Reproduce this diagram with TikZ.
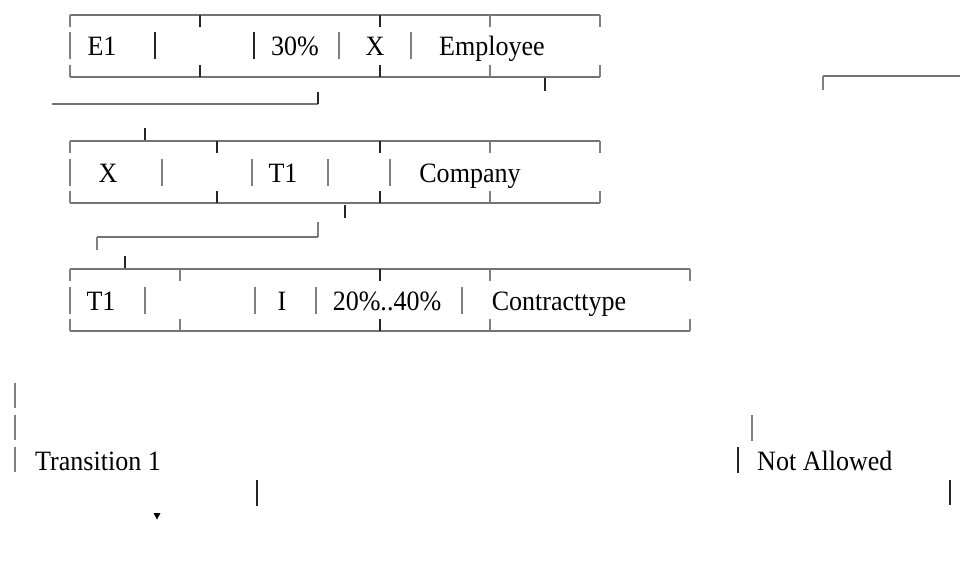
\documentclass[tikz,border=0pt]{standalone}
\usepackage{fontspec}
\setmainfont{Liberation Serif}[FakeStretch=0.93]
\begin{document}
\begin{tikzpicture}[x=1pt,y=-1pt,
  hline/.style={draw=black!55,line width=1.1pt},
  lbar/.style={draw=black!50,line width=1.2pt},
  dbar/.style={draw=black!85,line width=1.4pt},
  txt/.style={font=\fontsize{28}{32}\selectfont,inner sep=0pt,anchor=base},
  ltxt/.style={font=\fontsize{28}{32}\selectfont,inner sep=0pt,anchor=base west}]
\useasboundingbox (0,0) rectangle (962,562);
% ---------- row 1 : Employee (top 15, bottom 77)
\draw[hline] (70,15) -- (600,15);
\draw[hline] (70,77) -- (600,77);
\foreach \x in {70,490,600}{\draw[lbar] (\x,15) -- (\x,27); \draw[lbar] (\x,65) -- (\x,77);}
\foreach \x in {200,380}{\draw[dbar] (\x,15) -- (\x,27); \draw[dbar] (\x,65) -- (\x,77);}
\foreach \x in {70,339,411}{\draw[lbar] (\x,32) -- (\x,59);}
\foreach \x in {155,254}{\draw[dbar] (\x,32) -- (\x,59);}
\node[txt] (e1) at (102,56) {E1};
\node[txt] (p30) at (295,56) {30\%};
\node[txt] (x1) at (375,56) {X};
\node[txt] (emp) at (492,56) {Employee};
% links below row 1
\draw[dbar] (545,78) -- (545,91);
\draw[hline] (52,104) -- (318,104);
\draw[dbar] (318,92) -- (318,104);
% top right bracket
\draw[hline] (823,76) -- (960,76);
\draw[lbar] (823,76) -- (823,90);
% ---------- row 2 : Company (top 141, bottom 203)
\draw[dbar] (145,128) -- (145,140);
\draw[hline] (70,141) -- (600,141);
\draw[hline] (70,203) -- (600,203);
\foreach \x in {70,490,600}{\draw[lbar] (\x,141) -- (\x,153); \draw[lbar] (\x,191) -- (\x,203);}
\foreach \x in {217,380}{\draw[dbar] (\x,141) -- (\x,153); \draw[dbar] (\x,191) -- (\x,203);}
\foreach \x in {70,162,252,328,390}{\draw[lbar] (\x,159) -- (\x,186);}
\node[txt] (x2) at (108,182) {X};
\node[txt] (t1a) at (283,182) {T1};
\node[txt] (comp) at (470,182) {Company};
\draw[dbar] (345,205) -- (345,218);
% bracket between rows 2 and 3
\draw[lbar] (318,222) -- (318,237);
\draw[hline] (97,237) -- (318,237);
\draw[lbar] (97,237) -- (97,250);
\draw[dbar] (125,256) -- (125,268);
% ---------- row 3 : Contracttype (top 269, bottom 331)
\draw[hline] (70,269) -- (690,269);
\draw[hline] (70,331) -- (690,331);
\foreach \x in {70,180,490,690}{\draw[lbar] (\x,269) -- (\x,281); \draw[lbar] (\x,319) -- (\x,331);}
\foreach \x in {380}{\draw[dbar] (\x,269) -- (\x,281); \draw[dbar] (\x,319) -- (\x,331);}
\foreach \x in {70,145,255,316,462}{\draw[lbar] (\x,287) -- (\x,314);}
\node[txt] (t1b) at (101,310) {T1};
\node[txt] (ii) at (282,310) {I};
\node[txt] (range) at (387,310) {20\%..40\%};
\node[txt] (ctype) at (559,310) {Contracttype};
% ---------- bottom section
\draw[lbar] (15,383) -- (15,408);
\draw[lbar] (15,415) -- (15,440);
\draw[lbar] (15,447) -- (15,472);
\node[ltxt] (trans) at (35,470) {Transition 1};
\draw[lbar] (752,415) -- (752,441);
\draw[dbar] (738,447) -- (738,473);
\node[ltxt] (notal) at (757,470) {Not Allowed};
\draw[dbar] (257,480) -- (257,506);
\draw[dbar] (950,480) -- (950,505);
\fill[black] (153.5,513) -- (160.5,513) -- (157,519.5) -- cycle;
\end{tikzpicture}
\end{document}
